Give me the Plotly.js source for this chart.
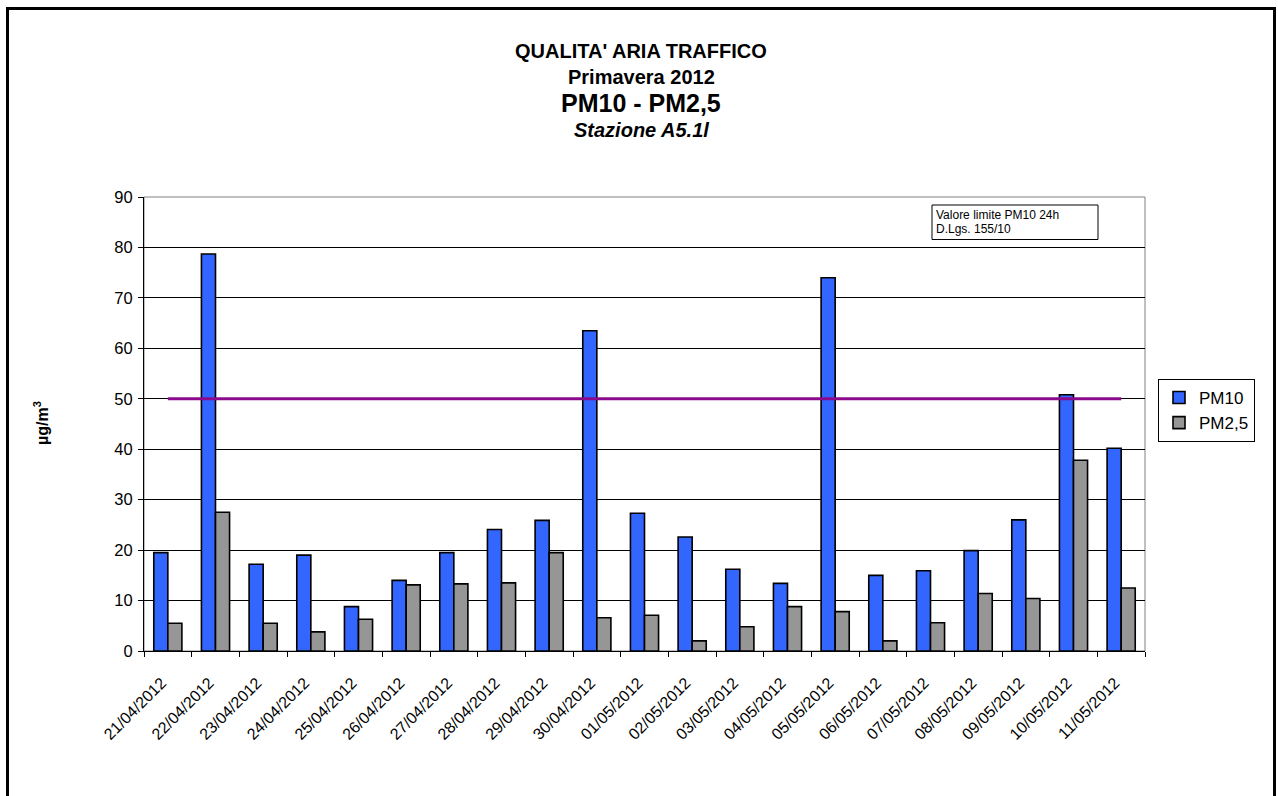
<!DOCTYPE html>
<html>
<head>
<meta charset="utf-8">
<script src="https://cdn.plot.ly/plotly-3.0.1.min.js"></script>
<style>html,body{margin:0;padding:0;background:#fff;}#chart{width:1278px;height:796px;}</style>
</head>
<body>
<div id="chart"></div>
<script>
const dates = ["21/04/2012","22/04/2012","23/04/2012","24/04/2012","25/04/2012","26/04/2012","27/04/2012","28/04/2012","29/04/2012","30/04/2012","01/05/2012","02/05/2012","03/05/2012","04/05/2012","05/05/2012","06/05/2012","07/05/2012","08/05/2012","09/05/2012","10/05/2012","11/05/2012"];
const pm10 = [19.5,78.7,17.2,19.0,8.8,14.0,19.5,24.1,25.9,63.5,27.3,22.6,16.2,13.4,74.0,15.0,15.9,19.9,26.0,50.8,40.2];
const pm25 = [5.5,27.5,5.5,3.8,6.3,13.1,13.3,13.5,19.5,6.6,7.1,2.0,4.8,8.8,7.8,2.0,5.6,11.4,10.4,37.8,12.5];
const limitValue = [50,50,50,50,50,50,50,50,50,50,50,50,50,50,50,50,50,50,50,50,50];
const yTicks = [0,10,20,30,40,50,60,70,80,90];

const FONT = "Liberation Sans, Arial, sans-serif";
const tickText = dates.map(d => d + "\u00a0\u00a0");

const traces = [
  {type:"bar", name:"PM10", x:dates, y:pm10,
   marker:{color:"#3366FF", line:{color:"#000", width:1.6}}},
  {type:"bar", name:"PM2,5", x:dates, y:pm25,
   marker:{color:"#969696", line:{color:"#000", width:1.6}}},
  {type:"scatter", mode:"lines", name:"Valore limite", x:dates, y:limitValue,
   line:{color:"#8B0A8B", width:3}, showlegend:false, hoverinfo:"skip"}
];

const L=144, R=133, T=197, B=145, W=1278-L-R, H=796-T-B;
const px = v => (v-L)/W;
const py = v => (796-B-v)/H;

const layout = {
  width:1278, height:796,
  margin:{l:L, r:R, t:T, b:B, pad:0},
  paper_bgcolor:"#fff", plot_bgcolor:"#fff",
  font:{family:FONT, color:"#000", size:16},
  barmode:"group", bargap:0.41, bargroupgap:0,
  showlegend:true,
  legend:{x:px(1158), y:py(379), xanchor:"left", yanchor:"top",
    bordercolor:"#000", borderwidth:1, bgcolor:"#fff",
    font:{family:FONT, size:17, color:"#000"},
    itemwidth:30, tracegroupgap:0},
  xaxis:{type:"category", tickangle:-45, ticks:"outside", ticklen:5, tickcolor:"#000",
    tickson:"boundaries", showline:true, linecolor:"#000", linewidth:1,
    tickmode:"array", tickvals:dates, ticktext:tickText,
    showgrid:false, tickfont:{family:FONT, size:16, color:"#000"}, ticklabelstandoff:9, fixedrange:true},
  yaxis:{range:[0,90], tickvals:yTicks, ticks:"outside", ticklen:5, tickcolor:"#000",
    showline:true, linecolor:"#000", linewidth:1, showgrid:true, gridcolor:"#000", gridwidth:1,
    zeroline:false, tickfont:{family:FONT, size:16.5, color:"#000"}, ticklabelstandoff:2, fixedrange:true},
  shapes:[
    {type:"rect", xref:"paper", yref:"paper", x0:0, x1:1, y0:0, y1:1,
     line:{color:"#808080", width:1}, layer:"below"},
    {type:"rect", xref:"paper", yref:"paper", x0:px(7.5), x1:px(1274.5), y0:py(8.5), y1:py(820),
     line:{color:"#000", width:3}},
    {type:"rect", xref:"paper", yref:"paper", x0:px(932), x1:px(1098), y0:py(205), y1:py(239.5),
     line:{color:"#000", width:1}, fillcolor:"#fff", layer:"above"}
  ],
  annotations:[
    {text:"<b>QUALITA' ARIA TRAFFICO</b>", xref:"paper", yref:"paper", x:px(641), y:py(50.5), showarrow:false,
     xanchor:"center", yanchor:"middle", font:{family:FONT, size:20}},
    {text:"<b>Primavera 2012</b>", xref:"paper", yref:"paper", x:px(641), y:py(77), showarrow:false,
     xanchor:"center", yanchor:"middle", font:{family:FONT, size:20}},
    {text:"<b>PM10 - PM2,5</b>", xref:"paper", yref:"paper", x:px(641), y:py(103), showarrow:false,
     xanchor:"center", yanchor:"middle", font:{family:FONT, size:25}},
    {text:"<b><i>Stazione A5.1l</i></b>", xref:"paper", yref:"paper", x:px(641), y:py(130), showarrow:false,
     xanchor:"center", yanchor:"middle", font:{family:FONT, size:20}},
    {text:"<b>µg/m<sup>3</sup></b>", xref:"paper", yref:"paper", x:px(41), y:py(423), showarrow:false,
     textangle:-90, xanchor:"center", yanchor:"middle", font:{family:FONT, size:16}},
    {text:"Valore limite PM10 24h", xref:"paper", yref:"paper", x:px(934), y:py(215),
     xanchor:"left", yanchor:"middle", showarrow:false, font:{family:FONT, size:12}},
    {text:"D.Lgs. 155/10", xref:"paper", yref:"paper", x:px(934), y:py(228.5),
     xanchor:"left", yanchor:"middle", showarrow:false, font:{family:FONT, size:12}}
  ]
};

Plotly.newPlot("chart", traces, layout, {displayModeBar:false, staticPlot:true});
</script>
</body>
</html>
